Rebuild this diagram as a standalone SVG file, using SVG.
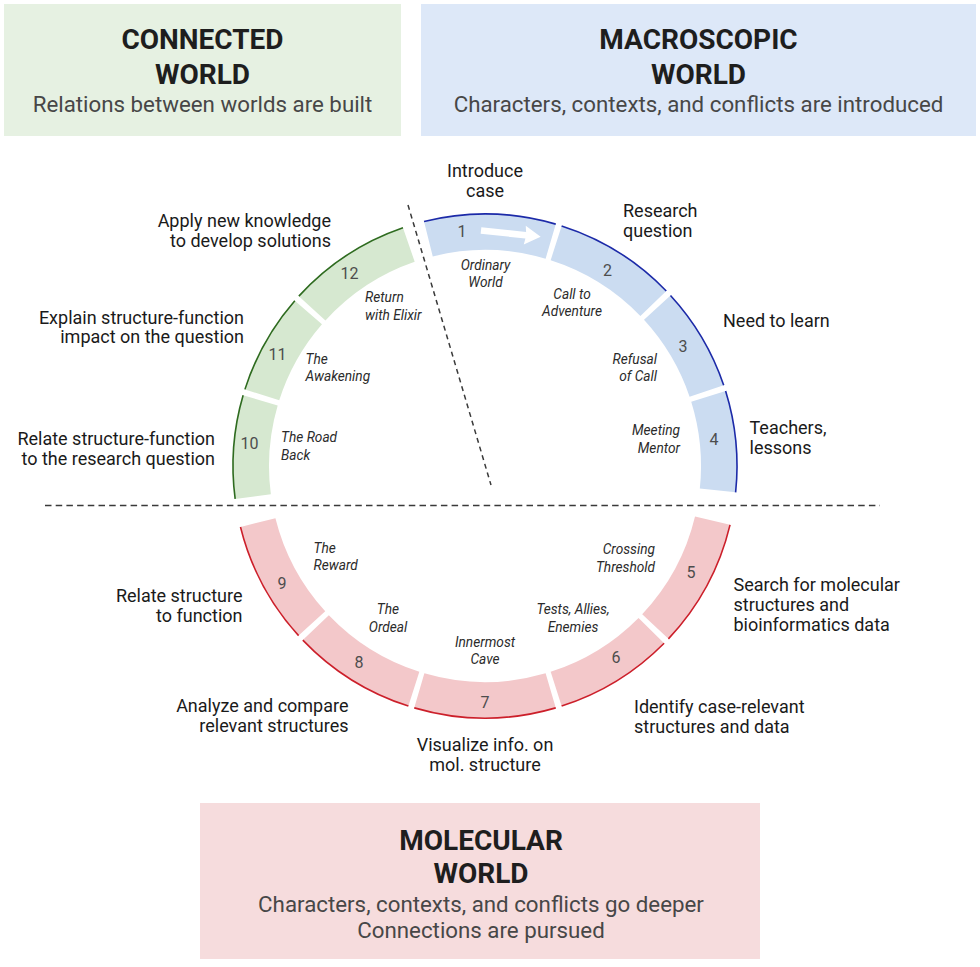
<svg xmlns="http://www.w3.org/2000/svg" width="980" height="967" viewBox="0 0 980 967">
<style>
text{font-family:Roboto,"Liberation Sans",sans-serif}
.ttl{font-size:28px;font-weight:bold;fill:#1e1e1e;text-anchor:middle}
.sub{font-size:22.3px;fill:#474747;text-anchor:middle}
.lab{font-size:18px;fill:#1a1a1a}
.it{font-size:13.7px;font-style:italic;fill:#2b2b2b}
.num{font-size:16px;fill:#4d4d4d;text-anchor:middle}
.m{text-anchor:middle}.e{text-anchor:end}.s{text-anchor:start}
.fb{fill:#cbdcf1}.fg{fill:#d6e8d0}.fr{fill:#f3c8ca}
.rim{fill:none;stroke-width:1.6}
.rb{stroke:#1c2aa8}.rg{stroke:#2e6b1f}.rr{stroke:#cc1f2a}
.dash{fill:none;stroke:#3a3a3a;stroke-width:1.5}
</style>
<rect width="980" height="967" fill="#ffffff"/>

<g id="box-connected">
<rect x="4" y="4" width="397" height="132" fill="#e6f1e2"/>
<text class="ttl" x="202.5" y="48.5">CONNECTED</text>
<text class="ttl" x="202.5" y="83.5">WORLD</text>
<text class="sub" x="202.5" y="111.5">Relations between worlds are built</text>
</g>
<g id="box-macroscopic">
<rect x="421" y="4" width="555" height="132" fill="#dde8f8"/>
<text class="ttl" x="698.5" y="48.5">MACROSCOPIC</text>
<text class="ttl" x="698.5" y="83.5">WORLD</text>
<text class="sub" x="698.5" y="111.5">Characters, contexts, and conflicts are introduced</text>
</g>
<g id="box-molecular">
<rect x="200" y="803" width="560" height="156" fill="#f6dcdd"/>
<text class="ttl" x="481" y="850">MOLECULAR</text>
<text class="ttl" x="481" y="883">WORLD</text>
<text class="sub" x="481" y="912">Characters, contexts, and conflicts go deeper</text>
<text class="sub" x="481" y="938">Connections are pursued</text>
</g>

<g id="connectors">
<line class="dash" x1="45" y1="505.5" x2="880" y2="505.5" stroke-dasharray="6.5 4.2"/>
<line class="dash" x1="408" y1="205" x2="491" y2="485" stroke-dasharray="5 4"/>
</g>

<g id="seg-1">
<path class="fb" d="M424.04 221.48 A252 252 0 0 1 555.73 224.13 L545.62 258.68 A216 216 0 0 0 432.75 256.42 Z"/>
<path class="rim rb" d="M424.04 221.48 A252 252 0 0 1 555.73 224.13"/>
<polygon fill="#ffffff" transform="translate(481,230.5) rotate(6)" points="0,-3.3 45,-3.3 44,-9.5 60,0 44,9.5 45,3.3 0,3.3"/>
<text class="num" x="462" y="237.3">1</text>
<text class="it m" x="485.5" y="270">Ordinary</text>
<text class="it m" x="485.5" y="287">World</text>
<text class="lab m" x="485" y="177">Introduce</text>
<text class="lab m" x="485" y="197">case</text>
</g>
<g id="seg-2">
<path class="fb" d="M561.62 225.93 A252 252 0 0 1 666.27 290.95 L640.38 315.95 A216 216 0 0 0 550.67 260.23 Z"/>
<path class="rim rb" d="M561.62 225.93 A252 252 0 0 1 666.27 290.95"/>
<text class="num" x="607.5" y="275.7">2</text>
<text class="it m" x="572" y="298.5">Call to</text>
<text class="it m" x="572" y="316">Adventure</text>
<text class="lab s" x="623" y="217">Research</text>
<text class="lab s" x="623" y="236.5">question</text>
</g>
<g id="seg-3">
<path class="fb" d="M670.50 295.43 A252 252 0 0 1 723.70 385.21 L689.60 396.75 A216 216 0 0 0 644.00 319.79 Z"/>
<path class="rim rb" d="M670.50 295.43 A252 252 0 0 1 723.70 385.21"/>
<text class="num" x="683" y="352.3">3</text>
<text class="it e" x="657" y="363.5">Refusal</text>
<text class="it e" x="657" y="381">of Call</text>
<text class="lab s" x="723" y="327">Need to learn</text>
</g>
<g id="seg-4">
<path class="fb" d="M725.60 391.06 A252 252 0 0 1 735.62 492.34 L699.82 488.58 A216 216 0 0 0 691.23 401.77 Z"/>
<path class="rim rb" d="M725.60 391.06 A252 252 0 0 1 735.62 492.34"/>
<text class="num" x="714" y="445">4</text>
<text class="it e" x="680" y="435">Meeting</text>
<text class="it e" x="680" y="453">Mentor</text>
<text class="lab s" x="749.5" y="433.5">Teachers,</text>
<text class="lab s" x="749.5" y="453.5">lessons</text>
</g>
<g id="seg-5">
<path class="fr" d="M730.04 524.83 A252 252 0 0 1 668.40 638.83 L642.20 614.14 A216 216 0 0 0 695.03 516.43 Z"/>
<path class="rim rr" d="M730.04 524.83 A252 252 0 0 1 668.40 638.83"/>
<text class="num" x="691" y="578.3">5</text>
<text class="it e" x="655" y="554">Crossing</text>
<text class="it e" x="655" y="572">Threshold</text>
<text class="lab s" x="733.5" y="590.5">Search for molecular</text>
<text class="lab s" x="733.5" y="610.5">structures and</text>
<text class="lab s" x="733.5" y="630.5">bioinformatics data</text>
</g>
<g id="seg-6">
<path class="fr" d="M664.12 643.25 A252 252 0 0 1 561.62 706.07 L550.67 671.77 A216 216 0 0 0 638.53 617.93 Z"/>
<path class="rim rr" d="M664.12 643.25 A252 252 0 0 1 561.62 706.07"/>
<text class="num" x="616" y="663.3">6</text>
<text class="it m" x="573" y="614">Tests, Allies,</text>
<text class="it m" x="573" y="632">Enemies</text>
<text class="lab s" x="634" y="712.5">Identify case-relevant</text>
<text class="lab s" x="634" y="732.5">structures and data</text>
</g>
<g id="seg-7">
<path class="fr" d="M555.73 707.87 A252 252 0 0 1 414.27 707.87 L424.38 673.32 A216 216 0 0 0 545.62 673.32 Z"/>
<path class="rim rr" d="M555.73 707.87 A252 252 0 0 1 414.27 707.87"/>
<text class="num" x="485" y="707.7">7</text>
<text class="it m" x="485" y="646.5">Innermost</text>
<text class="it m" x="485" y="663.5">Cave</text>
<text class="lab m" x="485" y="751">Visualize info. on</text>
<text class="lab m" x="485" y="771">mol. structure</text>
</g>
<g id="seg-8">
<path class="fr" d="M408.38 706.07 A252 252 0 0 1 302.81 640.10 L328.84 615.23 A216 216 0 0 0 419.33 671.77 Z"/>
<path class="rim rr" d="M408.38 706.07 A252 252 0 0 1 302.81 640.10"/>
<text class="num" x="359" y="667.7">8</text>
<text class="it m" x="388" y="614">The</text>
<text class="it m" x="388" y="631.5">Ordeal</text>
<text class="lab e" x="348.5" y="711.5">Analyze and compare</text>
<text class="lab e" x="348.5" y="731.5">relevant structures</text>
</g>
<g id="seg-9">
<path class="fr" d="M298.61 635.60 A252 252 0 0 1 240.48 526.96 L275.42 518.25 A216 216 0 0 0 325.24 611.37 Z"/>
<path class="rim rr" d="M298.61 635.60 A252 252 0 0 1 240.48 526.96"/>
<text class="num" x="282" y="589.3">9</text>
<text class="it s" x="313.5" y="552.5">The</text>
<text class="it s" x="313.5" y="570">Reward</text>
<text class="lab e" x="242.5" y="601.5">Relate structure</text>
<text class="lab e" x="242.5" y="621.5">to function</text>
</g>
<g id="seg-10">
<path class="fg" d="M235.16 498.89 A252 252 0 0 1 243.13 395.27 L277.68 405.38 A216 216 0 0 0 270.85 494.19 Z"/>
<path class="rim rg" d="M235.16 498.89 A252 252 0 0 1 243.13 395.27"/>
<text class="num" x="249.5" y="449.3">10</text>
<text class="it s" x="281" y="441.5">The Road</text>
<text class="it s" x="281" y="460">Back</text>
<text class="lab e" x="215" y="445">Relate structure-function</text>
<text class="lab e" x="215" y="465">to the research question</text>
</g>
<g id="seg-11">
<path class="fg" d="M244.93 389.38 A252 252 0 0 1 294.81 300.67 L321.98 324.29 A216 216 0 0 0 279.23 400.33 Z"/>
<path class="rim rg" d="M244.93 389.38 A252 252 0 0 1 294.81 300.67"/>
<text class="num" x="277.5" y="360">11</text>
<text class="it s" x="305.5" y="363.5">The</text>
<text class="it s" x="305.5" y="381">Awakening</text>
<text class="lab e" x="244" y="323.5">Explain structure-function</text>
<text class="lab e" x="244" y="343">impact on the question</text>
</g>
<g id="seg-12">
<path class="fg" d="M298.86 296.13 A252 252 0 0 1 402.96 227.73 L414.68 261.77 A216 216 0 0 0 325.45 320.40 Z"/>
<path class="rim rg" d="M298.86 296.13 A252 252 0 0 1 402.96 227.73"/>
<text class="num" x="349.5" y="279.3">12</text>
<text class="it s" x="365" y="301.5">Return</text>
<text class="it s" x="365" y="319.5">with Elixir</text>
<text class="lab e" x="331" y="226.5">Apply new knowledge</text>
<text class="lab e" x="331" y="246.5">to develop solutions</text>
</g>
</svg>
